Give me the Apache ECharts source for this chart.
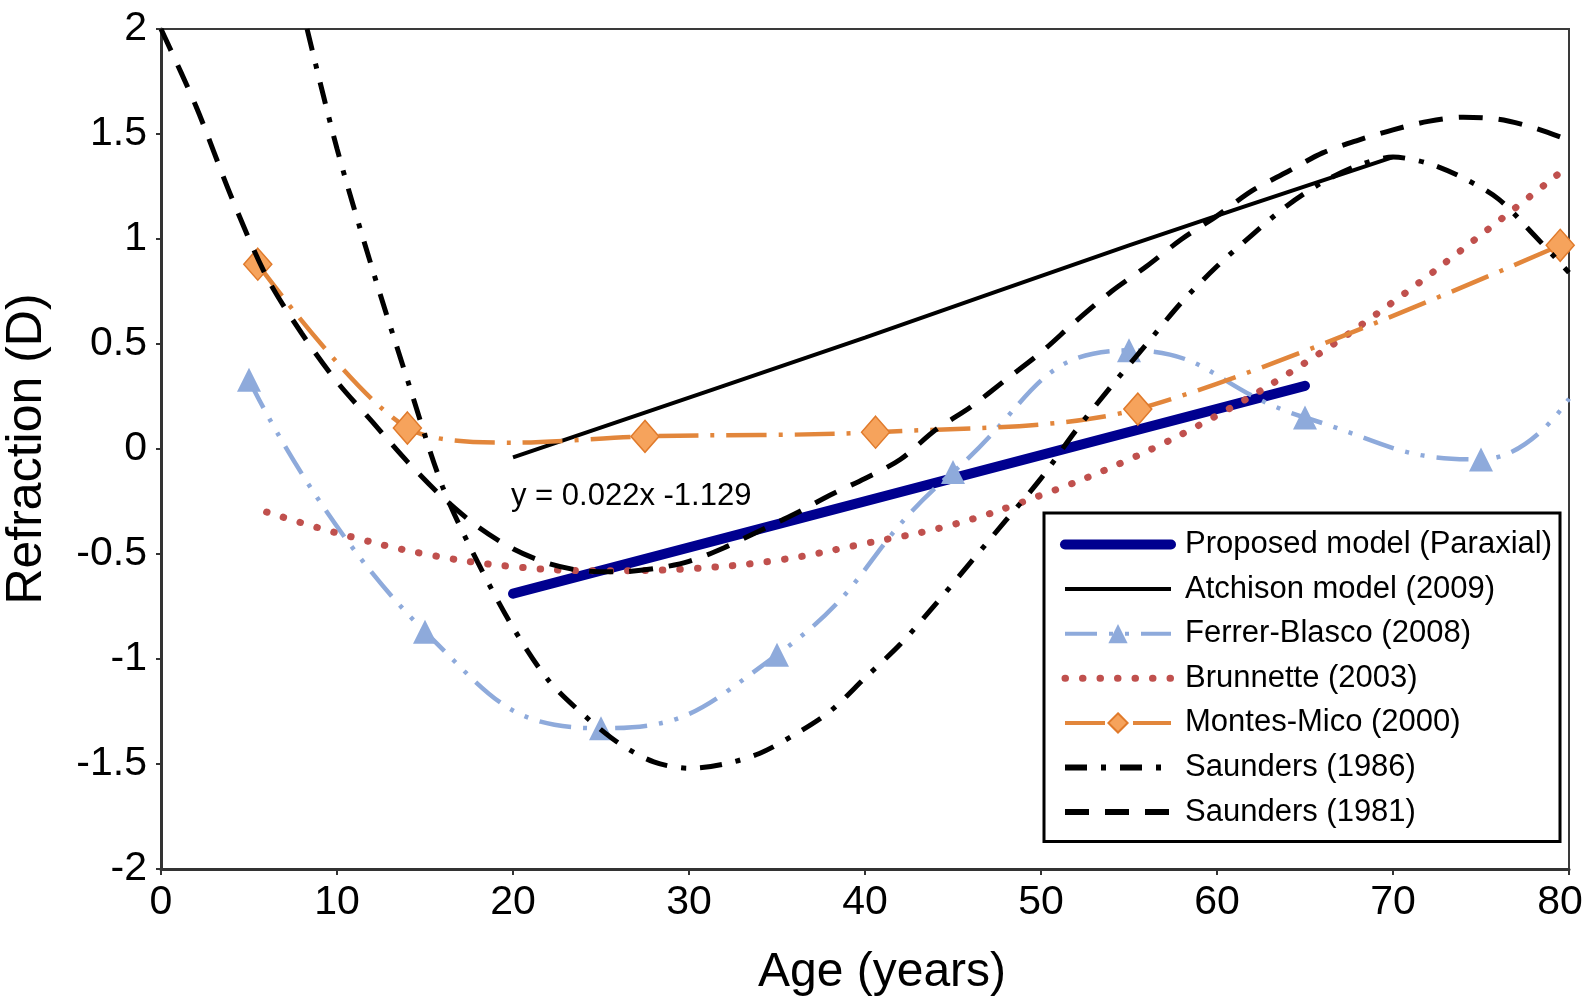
<!DOCTYPE html>
<html>
<head>
<meta charset="utf-8">
<script src="https://cdn.jsdelivr.net/npm/echarts@6/dist/echarts.min.js"></script>
<style>
html,body{margin:0;padding:0;background:#fff;}
#chart{width:1585px;height:998px;}
</style>
</head>
<body>
<div id="chart"></div>
<script>
// ---- data ----
const xTicks = [0, 10, 20, 30, 40, 50, 60, 70, 80];
const yTicks = [-2, -1.5, -1, -0.5, 0, 0.5, 1, 1.5, 2];

const proposedX = [20, 65];
const proposedY = [-0.689, 0.301];

const atchisonX = [20, 40, 55, 70];
const atchisonY = [-0.04, 0.53, 0.97, 1.39];

const ferrerX = [5, 15, 25, 35, 45, 55, 65, 75, 80];
const ferrerY = [0.33, -0.87, -1.33, -0.98, -0.11, 0.47, 0.15, -0.05, 0.24];
const ferrerMarked = [true, true, true, true, true, true, true, true, false];

const brunnetteX = [6, 10, 15, 20, 25, 30, 35, 40, 45, 50, 55, 60, 65, 70, 75, 80];
const brunnetteY = [-0.30, -0.40, -0.50, -0.56, -0.58, -0.57, -0.53, -0.45, -0.36, -0.22, -0.05, 0.16, 0.41, 0.70, 1.02, 1.35];

const montesX = [5.5, 14, 20, 27.5, 40.6, 55.5, 79.5];
const montesY = [0.88, 0.10, 0.03, 0.06, 0.08, 0.19, 0.97];
const montesMarked = [true, true, false, true, true, true, true];

const saunders86X = [8.3, 10, 12, 14, 16, 18, 20, 22, 24, 26, 28, 30, 32, 34, 36, 38, 40, 42, 44, 46, 48, 50, 52, 54, 56, 58, 60, 62, 64, 66, 68, 70, 72, 74, 76, 78, 80];
const saunders86Y = [2.0, 1.43, 0.86, 0.33, -0.18, -0.54, -0.85, -1.10, -1.265, -1.40, -1.49, -1.52, -1.50, -1.45, -1.36, -1.25, -1.09, -0.93, -0.74, -0.54, -0.34, -0.14, 0.09, 0.30, 0.50, 0.70, 0.87, 1.02, 1.16, 1.27, 1.35, 1.39, 1.36, 1.29, 1.19, 1.02, 0.84];

const saunders81X = [0, 2, 4, 6, 8, 10, 12, 14, 16, 18, 20, 22, 24, 26, 28, 30, 32, 34, 36, 38, 40, 42, 44, 46, 48, 50, 52, 54, 56, 58, 60, 62, 64, 66, 68, 70, 72, 74, 76, 78, 80];
const saunders81Y = [2.0, 1.63, 1.20, 0.82, 0.55, 0.32, 0.13, -0.06, -0.23, -0.37, -0.475, -0.545, -0.58, -0.585, -0.57, -0.535, -0.47, -0.39, -0.31, -0.22, -0.14, -0.05, 0.09, 0.20, 0.33, 0.46, 0.61, 0.75, 0.87, 1.00, 1.11, 1.23, 1.32, 1.41, 1.47, 1.52, 1.56, 1.58, 1.57, 1.53, 1.47];

const seriesNames = ['Proposed model (Paraxial)', 'Atchison model (2009)', 'Ferrer-Blasco (2008)', 'Brunnette (2003)', 'Montes-Mico (2000)', 'Saunders (1986)', 'Saunders (1981)'];
const annotationText = 'y = 0.022x -1.129';

// ---- build ----
const FONT = '"Liberation Sans", Arial, Helvetica, sans-serif';
function zip(xs, ys) { return xs.map((x, i) => [x, ys[i]]); }
function zipMarked(xs, ys, marks) {
  return xs.map((x, i) => marks[i] ? [x, ys[i]] : { value: [x, ys[i]], symbol: 'none' });
}

const chart = echarts.init(document.getElementById('chart'), null, { renderer: 'canvas' });

const HIDE = { opacity: 0 };
const legendData = [
  { name: seriesNames[0], itemStyle: HIDE, lineStyle: { width: 10, cap: 'round' } },
  { name: seriesNames[1], itemStyle: HIDE, lineStyle: { width: 4 } },
  { name: seriesNames[2], lineStyle: { width: 4 } },
  { name: seriesNames[3], itemStyle: HIDE, lineStyle: { width: 7, cap: 'round' } },
  { name: seriesNames[4], lineStyle: { width: 4 } },
  { name: seriesNames[5], itemStyle: HIDE, lineStyle: { width: 6 } },
  { name: seriesNames[6], itemStyle: HIDE, lineStyle: { width: 6 } }
];
const xMax = xTicks[xTicks.length - 1];

const option = {
  backgroundColor: '#ffffff',
  animation: false,
  grid: { left: 161, right: 16, top: 29, bottom: 129, show: true, borderColor: '#3a3a3a', borderWidth: 2,
    backgroundColor: 'transparent', outerBoundsMode: 'none', containLabel: false },
  xAxis: {
    type: 'value', min: 0, max: 80, interval: 10,
    name: 'Age (years)', nameLocation: 'middle', nameGap: 80,
    nameTextStyle: { fontSize: 48, fontFamily: FONT, color: '#000', padding: [0, 0, 0, 34] },
    axisLine: { show: true, onZero: false, lineStyle: { color: '#333', width: 3 } },
    axisTick: { show: true, inside: false, length: 6, lineStyle: { color: '#333', width: 2 } },
    axisLabel: { fontSize: 41, fontFamily: FONT, color: '#000', margin: 13,
      formatter: v => !xTicks.includes(v) ? '' : (v === xMax ? '{m|' + v + '}' : String(v)),
      rich: { m: { fontSize: 41, fontFamily: FONT, color: '#000', padding: [0, 18, 0, 0] } } },
    splitLine: { show: false }
  },
  yAxis: {
    type: 'value', min: -2, max: 2, interval: 0.5,
    name: 'Refraction (D)', nameLocation: 'middle', nameGap: 109,
    nameTextStyle: { fontSize: 50, fontFamily: FONT, color: '#000' },
    axisLine: { show: true, onZero: false, lineStyle: { color: '#333', width: 3 } },
    axisTick: { show: true, inside: false, length: 5, lineStyle: { color: '#333', width: 2 } },
    axisLabel: { fontSize: 41, fontFamily: FONT, color: '#000', margin: 14,
      formatter: v => yTicks.includes(v) ? String(v) : '' },
    splitLine: { show: false }
  },
  legend: {
    orient: 'vertical', left: 1044, top: 513,
    padding: [16, 8, 14, 16],
    itemWidth: 106, itemHeight: 24, itemGap: 13.6,
    backgroundColor: '#ffffff', borderColor: '#000', borderWidth: 3,
    textStyle: { fontSize: 31, fontFamily: FONT, color: '#000', lineHeight: 30, padding: [0, 0, 0, 9] },
    data: legendData
  },
  graphic: [{
    type: 'text', left: 511, top: 481, z: 100,
    style: { text: annotationText, fontSize: 31, fontFamily: FONT, fill: '#000' }
  }],
  series: [
    {
      name: seriesNames[0], type: 'line', data: zip(proposedX, proposedY),
      symbol: 'none', lineStyle: { color: '#00008f', width: 10, cap: 'round' },
      itemStyle: { color: '#00008f' }, z: 2
    },
    {
      name: seriesNames[1], type: 'line', data: zip(atchisonX, atchisonY), smooth: 0.3,
      symbol: 'none', lineStyle: { color: '#000', width: 4 },
      itemStyle: { color: '#000' }, z: 3
    },
    {
      name: seriesNames[2], type: 'line', data: zipMarked(ferrerX, ferrerY, ferrerMarked), smooth: 0.5,
      symbol: 'triangle', symbolSize: 24, showSymbol: true,
      lineStyle: { color: '#8eaadb', width: 4.5, type: [32, 12, 4, 12, 4, 12] },
      itemStyle: { color: '#8eaadb', borderWidth: 0 }, z: 4
    },
    {
      name: seriesNames[3], type: 'line', data: zip(brunnetteX, brunnetteY), smooth: 0.4,
      symbol: 'none', lineStyle: { color: '#c0504d', width: 7, type: [0.5, 17], cap: 'round' },
      itemStyle: { color: '#c0504d' }, z: 5
    },
    {
      name: seriesNames[4], type: 'line', data: zipMarked(montesX, montesY, montesMarked), smooth: 0.3,
      symbol: 'diamond', symbolSize: [28, 32], showSymbol: true,
      lineStyle: { color: '#e2863b', width: 4.5, type: [40, 12, 4, 12] },
      itemStyle: { color: '#f6a35c', borderColor: '#e07a2b', borderWidth: 1.5 }, z: 6
    },
    {
      name: seriesNames[5], type: 'line', data: zip(saunders86X, saunders86Y), smooth: 0.3,
      symbol: 'none', lineStyle: { color: '#000', width: 5, type: [22, 14, 5, 14] },
      itemStyle: { color: '#000' }, z: 7
    },
    {
      name: seriesNames[6], type: 'line', data: zip(saunders81X, saunders81Y), smooth: 0.3,
      symbol: 'none', lineStyle: { color: '#000', width: 5, type: [24, 16] },
      itemStyle: { color: '#000' }, z: 8
    }
  ]
};
chart.setOption(option);
</script>
</body>
</html>
